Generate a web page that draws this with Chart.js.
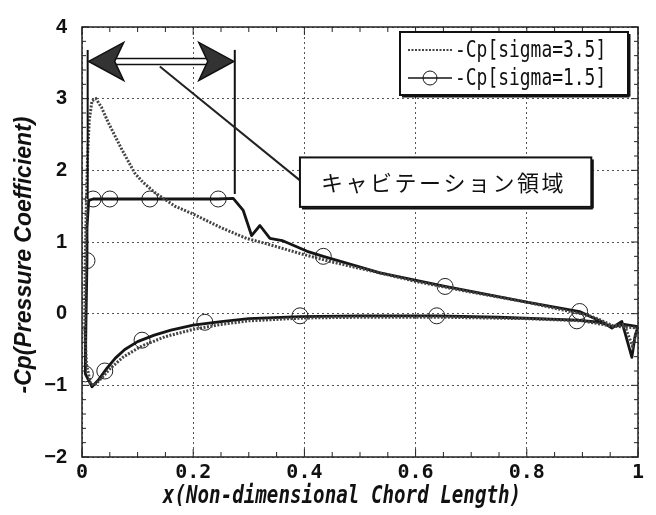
<!DOCTYPE html>
<html>
<head>
<meta charset="utf-8">
<script src="https://cdn.jsdelivr.net/npm/chart.js@4.4.0/dist/chart.umd.min.js"></script>
<style>
  html, body { margin: 0; padding: 0; background: #fff; }
  #wrap { width: 656px; height: 515px; }
</style>
</head>
<body>
<div id="wrap"><canvas id="cpChart" width="656" height="515"></canvas></div>
<script>
// -Cp along the chord, upper surface from TE to LE then lower surface back to TE
const sig35X = [1.0, 0.99, 0.975, 0.955, 0.93, 0.91, 0.878, 0.8, 0.7, 0.653, 0.6, 0.518, 0.45, 0.392, 0.33, 0.296, 0.25, 0.2, 0.167, 0.131, 0.11, 0.095, 0.083, 0.071, 0.047, 0.035, 0.025, 0.018, 0.013, 0.01, 0.008, 0.006, 0.005, 0.008, 0.015, 0.022, 0.035, 0.05, 0.075, 0.108, 0.15, 0.2, 0.25, 0.3, 0.4, 0.5, 0.65, 0.8, 0.9, 0.95, 1.0];
const sig35Y = [-0.2, -0.45, -0.15, -0.17, -0.08, -0.02, 0.03, 0.16, 0.3, 0.37, 0.45, 0.6, 0.72, 0.84, 0.98, 1.05, 1.2, 1.39, 1.5, 1.69, 1.83, 1.96, 2.13, 2.3, 2.67, 2.88, 3.0, 2.97, 2.7, 2.2, 1.6, 0.8, -0.2, -0.7, -0.97, -1.0, -0.9, -0.77, -0.6, -0.45, -0.32, -0.22, -0.15, -0.1, -0.06, -0.05, -0.05, -0.07, -0.1, -0.17, -0.2];

const sig15X = [1.0, 0.995, 0.989, 0.971, 0.953, 0.937, 0.914, 0.895, 0.8, 0.653, 0.536, 0.434, 0.405, 0.36, 0.338, 0.32, 0.305, 0.29, 0.272, 0.245, 0.122, 0.05, 0.02, 0.012, 0.009, 0.009, 0.007, 0.006, 0.018, 0.03, 0.045, 0.06, 0.077, 0.1, 0.13, 0.16, 0.2, 0.25, 0.3, 0.392, 0.5, 0.638, 0.75, 0.89, 0.93, 0.955, 0.975, 1.0];
const sig15Y = [-0.18, -0.3, -0.61, -0.11, -0.2, -0.12, -0.04, 0.03, 0.16, 0.38, 0.57, 0.8, 0.87, 1.02, 1.05, 1.23, 1.09, 1.44, 1.61, 1.6, 1.6, 1.6, 1.6, 1.58, 1.2, 0.74, -0.2, -0.84, -1.02, -0.92, -0.76, -0.62, -0.5, -0.39, -0.3, -0.23, -0.16, -0.11, -0.07, -0.04, -0.03, -0.03, -0.05, -0.09, -0.12, -0.18, -0.15, -0.18];

// circle markers on the sigma=1.5 curve
const mark15X = [0.009, 0.02, 0.05, 0.122, 0.245, 0.434, 0.653, 0.895, 0.006, 0.041, 0.108, 0.221, 0.392, 0.638, 0.89];
const mark15Y = [0.74, 1.6, 1.6, 1.6, 1.6, 0.8, 0.38, 0.03, -0.84, -0.8, -0.37, -0.12, -0.03, -0.03, -0.1];

const seriesLabels = ['-Cp[sigma=3.5]', '-Cp[sigma=1.5]'];
const xTickValues = [0, 0.2, 0.4, 0.6, 0.8, 1];
const yTickValues = [-2, -1, 0, 1, 2, 3, 4];
const xTitle = 'x(Non-dimensional Chord Length)';
const yTitle = '-Cp(Pressure Coefficient)';
const regionLabel = 'キャビテーション領域';

// annotation placement in data units
const note = {
  arrowY: 3.52, arrowX0: 0.012, arrowX1: 0.273,
  fenceTop: 3.68, fenceLeftBottom: 1.6, fenceRightBottom: 1.67,
  leaderFrom: [0.14, 3.45], leaderTo: [0.392, 1.86],
  box: [0.392, 2.18, 0.916, 1.49]
};

const toPts = (xs, ys) => xs.map((v, i) => ({ x: v, y: ys[i] }));

function line(ctx, x0, y0, x1, y1) {
  ctx.beginPath();
  ctx.moveTo(x0, y0);
  ctx.lineTo(x1, y1);
  ctx.stroke();
}

function arrowHead(ctx, tx, ty, dir) {
  const L = 35, H = 19, notch = 9;
  ctx.beginPath();
  ctx.moveTo(tx, ty);
  ctx.lineTo(tx - dir * L, ty - H);
  ctx.lineTo(tx - dir * (L - notch), ty);
  ctx.lineTo(tx - dir * L, ty + H);
  ctx.closePath();
  ctx.fillStyle = '#333';
  ctx.fill();
  ctx.lineWidth = 1.5;
  ctx.strokeStyle = '#111';
  ctx.stroke();
}

const decor = {
  id: 'decor',
  afterDatasetsDraw(chart) {
    const { ctx, chartArea: a, scales: { x, y } } = chart;
    ctx.save();

    // frame and inner ticks
    ctx.strokeStyle = '#222';
    ctx.lineWidth = 1.5;
    ctx.strokeRect(a.left, a.top, a.right - a.left, a.bottom - a.top);
    ctx.lineWidth = 1;
    for (let i = 0; i <= 30; i++) {
      const py = y.getPixelForValue(-2 + i * 0.2);
      const len = i % 5 === 0 ? 7 : 4;
      line(ctx, a.left, py, a.left + len, py);
      line(ctx, a.right, py, a.right - len, py);
    }
    for (let i = 0; i <= 20; i++) {
      const px = x.getPixelForValue(i * 0.05);
      const len = i % 4 === 0 ? 8 : 5;
      line(ctx, px, a.bottom, px, a.bottom - len);
      line(ctx, px, a.top, px, a.top + len);
    }

    // axis titles
    ctx.fillStyle = '#111';
    ctx.textAlign = 'center';
    ctx.textBaseline = 'middle';
    ctx.save();
    ctx.translate(25, 255);
    ctx.rotate(-Math.PI / 2);
    ctx.font = 'italic bold 23px "Liberation Sans", Arial, sans-serif';
    ctx.fillText(yTitle, 0, 0);
    ctx.restore();
    ctx.save();
    ctx.translate(342, 497);
    ctx.scale(0.8, 1);
    ctx.font = 'italic bold 24px "DejaVu Sans Mono", monospace';
    ctx.fillText(xTitle, 0, 0);
    ctx.restore();

    // cavitation region arrow
    const ay = y.getPixelForValue(note.arrowY);
    const ax0 = x.getPixelForValue(note.arrowX0);
    const ax1 = x.getPixelForValue(note.arrowX1);
    const fTop = y.getPixelForValue(note.fenceTop);
    ctx.strokeStyle = '#111';
    ctx.lineWidth = 2;
    line(ctx, ax0 - 1, fTop, ax0 - 1, y.getPixelForValue(note.fenceLeftBottom));
    line(ctx, ax1 + 1, fTop, ax1 + 1, y.getPixelForValue(note.fenceRightBottom));
    ctx.fillStyle = '#fff';
    ctx.fillRect(ax0 + 20, ay - 3, ax1 - ax0 - 40, 6);
    ctx.lineWidth = 1.5;
    line(ctx, ax0 + 20, ay - 3, ax1 - 20, ay - 3);
    line(ctx, ax0 + 20, ay + 3, ax1 - 20, ay + 3);
    arrowHead(ctx, ax0, ay, -1);
    arrowHead(ctx, ax1, ay, 1);

    // leader line and label box
    ctx.strokeStyle = '#222';
    ctx.lineWidth = 2;
    line(ctx, x.getPixelForValue(note.leaderFrom[0]), y.getPixelForValue(note.leaderFrom[1]),
      x.getPixelForValue(note.leaderTo[0]), y.getPixelForValue(note.leaderTo[1]));
    const bx0 = x.getPixelForValue(note.box[0]), by0 = y.getPixelForValue(note.box[1]);
    const bx1 = x.getPixelForValue(note.box[2]), by1 = y.getPixelForValue(note.box[3]);
    ctx.fillStyle = '#fff';
    ctx.fillRect(bx0, by0, bx1 - bx0, by1 - by0);
    ctx.strokeStyle = '#111';
    ctx.lineWidth = 2;
    ctx.strokeRect(bx0, by0, bx1 - bx0, by1 - by0);
    line(ctx, bx1 + 1.5, by0 + 2, bx1 + 1.5, by1 + 1.5);
    line(ctx, bx0 + 2, by1 + 1.5, bx1 + 1.5, by1 + 1.5);
    ctx.fillStyle = '#111';
    ctx.font = '22px "Noto Sans CJK JP", sans-serif';
    ctx.letterSpacing = '2.5px';
    ctx.fillText(regionLabel, (bx0 + bx1) / 2 - 2, (by0 + by1) / 2);
    ctx.letterSpacing = '0px';

    // legend
    const lx = a.right - 238, ly = a.top + 5, lw = 228, lh = 63;
    ctx.fillStyle = '#fff';
    ctx.fillRect(lx, ly, lw, lh);
    ctx.strokeStyle = '#111';
    ctx.lineWidth = 2;
    ctx.strokeRect(lx, ly, lw, lh);
    line(ctx, lx + lw + 1.5, ly + 2, lx + lw + 1.5, ly + lh + 1.5);
    line(ctx, lx + 2, ly + lh + 1.5, lx + lw + 1.5, ly + lh + 1.5);
    const rows = [ly + 18, ly + 46];
    const ds = chart.data.datasets;
    ctx.save();
    ctx.strokeStyle = ds[0].borderColor;
    ctx.lineWidth = 2;
    ctx.setLineDash([2, 1.5]);
    line(ctx, lx + 8, rows[0], lx + 52, rows[0]);
    ctx.restore();
    ctx.strokeStyle = ds[1].borderColor;
    ctx.lineWidth = 1.5;
    line(ctx, lx + 8, rows[1], lx + 52, rows[1]);
    ctx.lineWidth = 1;
    ctx.beginPath();
    ctx.arc(lx + 30, rows[1], 7, 0, Math.PI * 2);
    ctx.stroke();
    ctx.fillStyle = '#111';
    ctx.textAlign = 'left';
    [0, 1].forEach(i => {
      ctx.save();
      ctx.translate(lx + 55, rows[i] + 1);
      ctx.scale(0.78, 1);
      ctx.font = '23px "DejaVu Sans Mono", monospace';
      ctx.fillText(ds[i].label, 0, 0);
      ctx.restore();
    });

    ctx.restore();
  }
};

new Chart(document.getElementById('cpChart'), {
  type: 'scatter',
  data: {
    datasets: [
      {
        label: seriesLabels[0],
        data: toPts(sig35X, sig35Y),
        showLine: true,
        borderColor: '#444',
        borderWidth: 3,
        borderDash: [2, 1.5],
        pointRadius: 0,
        tension: 0
      },
      {
        label: seriesLabels[1],
        data: toPts(sig15X, sig15Y),
        showLine: true,
        borderColor: '#151515',
        borderWidth: 2.8,
        borderJoinStyle: 'round',
        pointRadius: 0,
        tension: 0
      },
      {
        label: 'markers',
        data: toPts(mark15X, mark15Y),
        showLine: false,
        pointStyle: 'circle',
        pointRadius: 8,
        borderColor: '#222',
        borderWidth: 1,
        backgroundColor: 'rgba(0,0,0,0)'
      }
    ]
  },
  options: {
    responsive: false,
    animation: false,
    layout: { padding: { left: 0, top: 19, right: 18, bottom: 0 } },
    plugins: {
      legend: { display: false },
      tooltip: { enabled: false }
    },
    scales: {
      x: {
        type: 'linear',
        min: 0,
        max: 1,
        afterBuildTicks: s => { s.ticks = xTickValues.map(v => ({ value: v })); },
        afterFit: s => { s.height = 58; },
        ticks: {
          padding: 4,
          color: '#111',
          font: { family: '"DejaVu Sans Mono", monospace', weight: 'bold', size: 20 },
          callback: v => (v === 0 || v === 1) ? String(v) : v.toFixed(1)
        },
        grid: { color: '#555', lineWidth: 1, drawTicks: false },
        border: { display: false, dash: [2, 3] }
      },
      y: {
        type: 'linear',
        min: -2,
        max: 4,
        afterBuildTicks: s => { s.ticks = yTickValues.map(v => ({ value: v })); },
        afterFit: s => { s.width = 82; },
        ticks: {
          padding: 15,
          color: '#111',
          font: { family: '"Liberation Sans Narrow", "Liberation Sans", Arial, sans-serif', weight: 'bold', size: 20 },
          callback: v => v < 0 ? '\u2212' + Math.abs(v) : String(v)
        },
        grid: { color: '#555', lineWidth: 1, drawTicks: false },
        border: { display: false, dash: [2, 3] }
      }
    }
  },
  plugins: [decor]
});
</script>
</body>
</html>
